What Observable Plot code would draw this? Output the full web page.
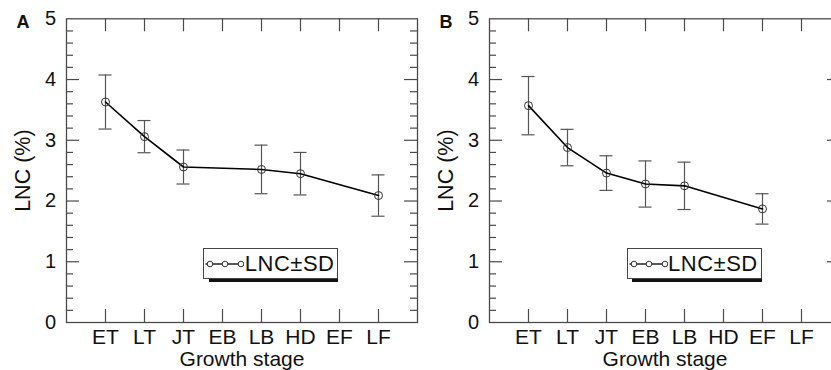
<!DOCTYPE html>
<html>
<head>
<meta charset="utf-8">
<script src="https://cdn.jsdelivr.net/npm/d3@7"></script>
<script src="https://cdn.jsdelivr.net/npm/@observablehq/plot@0.6"></script>
<style>
  html, body { margin: 0; padding: 0; background: white; }
  #root { position: relative; width: 831px; height: 370px; overflow: hidden; background: white;
          font-family: "Liberation Sans", Arial, Helvetica, sans-serif; }
  .panel { position: absolute; top: 0; width: 425px; height: 370px; }
  .panel svg { position: absolute; left: 0; top: 0; }
  .legend { position: absolute; left: 203.3px; top: 248.3px; width: 135px; height: 31px;
            box-sizing: border-box; border: 1px solid #444; background: white; }
  .legend svg { position: absolute; left: 0; top: 0; }
  .legend span { position: absolute; left: 40.5px; top: 0; line-height: 29px; font-size: 22px; letter-spacing: 0.5px; color: #111; white-space: nowrap; }
  .shadow { position: absolute; left: 209px; top: 279.3px; width: 129.3px; height: 3px; background: #111; }
</style>
</head>
<body>
<div id="root"></div>
<script>
// ---- data ----
const stages = ["ET", "LT", "JT", "EB", "LB", "HD", "EF", "LF"];
const yTicks = [0, 1, 2, 3, 4, 5];

const stagesA = ["ET", "LT", "JT", "LB", "HD", "LF"];
const meanA   = [3.63, 3.06, 2.56, 2.52, 2.45, 2.09];
const sdA     = [0.445, 0.265, 0.28, 0.40, 0.35, 0.34];

const stagesB = ["ET", "LT", "JT", "EB", "LB", "EF"];
const meanB   = [3.57, 2.88, 2.46, 2.28, 2.25, 1.87];
const sdB     = [0.48, 0.30, 0.285, 0.38, 0.39, 0.25];

const panelLetters = ["A", "B"];
const xLabel = "Growth stage";
const yLabel = "LNC (%)";
const legendLabel = "LNC\u00B1SD";

// ---- layout ----
const W = 425, H = 370, ML = 66, MR = 8, MT = 18.3, MB = 48;
const FW = W - ML - MR, FH = H - MT - MB;
const MAJOR = 13, MINOR = 7;
const frameColor = "#4a4a4a";
const majorY = [1, 2, 3, 4];
const minorY = d3.range(1, 25).map(i => i / 5).filter(v => !Number.isInteger(v));

function panel(stagesP, meanP, sdP, letter) {
  const data = stagesP.map((s, i) => ({stage: s, mean: meanP[i], lo: meanP[i] - sdP[i], hi: meanP[i] + sdP[i]}));
  const tk = {stroke: frameColor, strokeWidth: 1.2};
  const cap = {x1: "stage", x2: "stage", insetLeft: -6.5, insetRight: -6.5, stroke: "#555", strokeWidth: 1.2};
  return Plot.plot({
    width: W, height: H,
    marginLeft: ML, marginRight: MR, marginTop: MT, marginBottom: MB,
    style: {fontFamily: '"Liberation Sans", Arial, Helvetica, sans-serif', fontSize: "20px", color: "#111", background: "transparent", overflow: "visible"},
    x: {type: "point", domain: stages, padding: 1},
    y: {domain: [0, 5]},
    marks: [
      Plot.tickX(stages, {x: d => d, insetTop: FH - MAJOR, ...tk}),
      Plot.tickX(stages, {x: d => d, insetBottom: FH - MAJOR, ...tk}),
      Plot.tickY(majorY, {y: d => d, insetRight: FW - MAJOR, ...tk}),
      Plot.tickY(majorY, {y: d => d, insetLeft: FW - MAJOR, ...tk}),
      Plot.tickY(minorY, {y: d => d, insetRight: FW - MINOR, ...tk}),
      Plot.tickY(minorY, {y: d => d, insetLeft: FW - MINOR, ...tk}),
      Plot.frame({stroke: frameColor, strokeWidth: 1.3}),
      Plot.axisX({tickSize: 0, tickPadding: 7, fontSize: 21, label: null}),
      Plot.axisY({ticks: yTicks, tickFormat: "d", tickSize: 0, tickPadding: 10.5, fontSize: 20, label: null}),
      Plot.text([yLabel], {text: d => d, frameAnchor: "left", rotate: -90, dx: -43, fontSize: 21.5, textAnchor: "middle", lineAnchor: "middle"}),
      Plot.text([xLabel], {text: d => d, frameAnchor: "bottom", dy: 37, fontSize: 21, textAnchor: "middle", lineAnchor: "middle"}),
      Plot.text([letter], {text: d => d, frameAnchor: "top-left", dx: -43.5, dy: 3, fontSize: 18, fontWeight: "bold", textAnchor: "middle", lineAnchor: "middle"}),
      Plot.ruleX(data, {x: "stage", y1: "lo", y2: "hi", stroke: "#555", strokeWidth: 1.2}),
      Plot.ruleY(data, {y: "hi", ...cap}),
      Plot.ruleY(data, {y: "lo", ...cap}),
      Plot.line(data, {x: "stage", y: "mean", stroke: "#000", strokeWidth: 1.6}),
      Plot.dot(data, {x: "stage", y: "mean", r: 4, stroke: "#333", fill: "none", strokeWidth: 1})
    ]
  });
}

function legend() {
  const box = document.createElement("div");
  box.className = "legend";
  box.innerHTML = `<svg width="40" height="29"><line x1="1.5" x2="37" y1="15" y2="15" stroke="#222" stroke-width="1.3"/>` +
    [6, 21, 37].map(cx => `<circle cx="${cx}" cy="15" r="2.8" fill="white" stroke="#333" stroke-width="1"/>`).join("") +
    `</svg><span>${legendLabel}</span>`;
  return box;
}

const root = document.getElementById("root");
[[stagesA, meanA, sdA, 0], [stagesB, meanB, sdB, 423.3]].forEach(([s, m, sd, left], i) => {
  const wrap = document.createElement("div");
  wrap.className = "panel";
  wrap.style.left = left + "px";
  wrap.appendChild(panel(s, m, sd, panelLetters[i]));
  const sh = document.createElement("div");
  sh.className = "shadow";
  wrap.appendChild(sh);
  wrap.appendChild(legend());
  root.appendChild(wrap);
});
</script>
</body>
</html>
